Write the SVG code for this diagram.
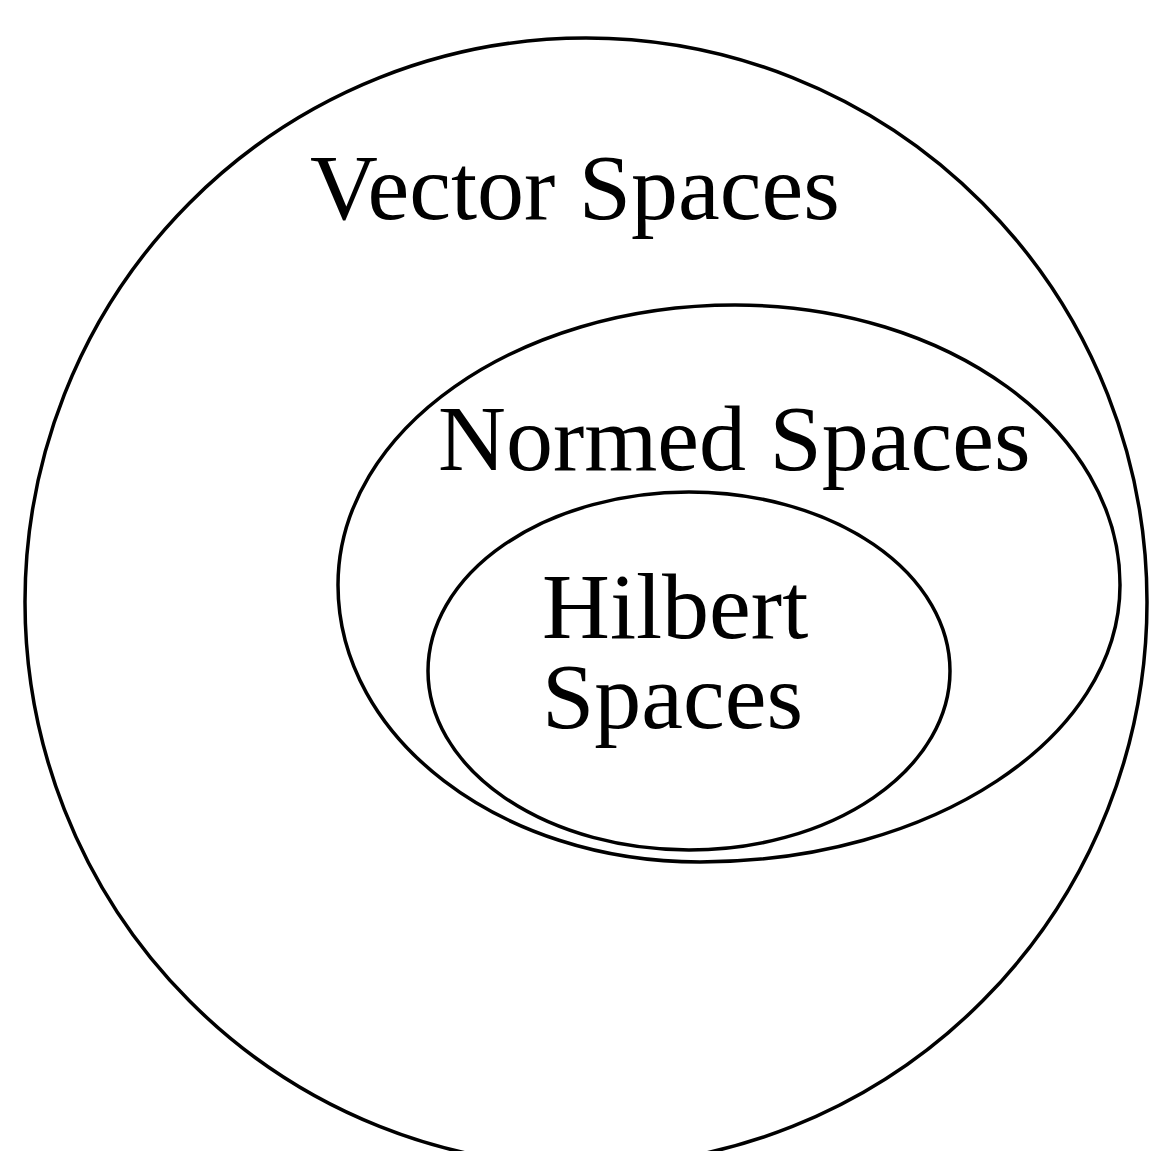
<svg xmlns="http://www.w3.org/2000/svg" width="1152" height="1151" viewBox="0 0 1152 1151">
<style>
.shape{fill:none;stroke:#000;stroke-width:3.5}
.lbl{font-family:"Liberation Serif","Times New Roman",serif;font-size:94px;fill:#000}
</style>
<rect width="1152" height="1151" fill="#fff"/>
<g id="vector-spaces">
<ellipse class="shape" cx="586" cy="602" rx="561" ry="564"/>
<text class="lbl" x="310" y="219">Vector Spaces</text>
</g>
<g id="normed-spaces">
<path class="shape" d="M735,305 C947.6,305 1120,430 1120,585 C1120,738 932,862 700,862 C500,862 338,738 338,585 C338,430 516,305 735,305 Z"/>
<text class="lbl" x="438" y="470">Normed Spaces</text>
</g>
<g id="hilbert-spaces">
<ellipse class="shape" cx="689" cy="671" rx="261" ry="179"/>
<text class="lbl" x="542" y="638">Hilbert</text>
<text class="lbl" x="542" y="728">Spaces</text>
</g>
<g id="connectors"></g>
</svg>
